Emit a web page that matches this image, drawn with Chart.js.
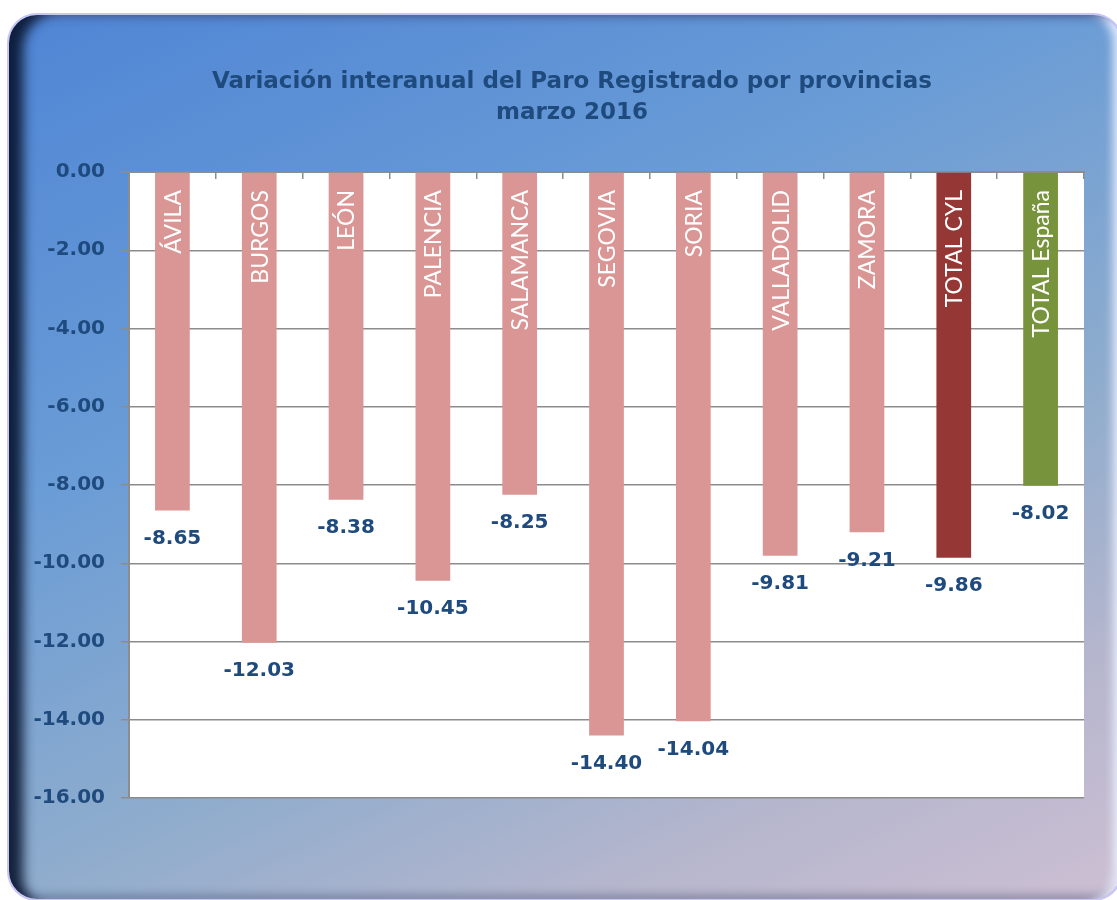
<!DOCTYPE html>
<html lang="es">
<head>
<meta charset="utf-8">
<title>Variación interanual del Paro Registrado por provincias</title>
<script src="https://cdn.jsdelivr.net/npm/chart.js@4.4.0/dist/chart.umd.min.js"></script>
<style>
  html, body { margin: 0; padding: 0; background: #ffffff; overflow: hidden; }
  #wrap { position: relative; width: 1117px; height: 900px; }
  #frame {
    position: absolute; left: 7px; top: 13px; width: 1112px; height: 884px;
    border: 2px solid #c9c6f4; border-radius: 30px;
    background: linear-gradient(155deg, #4f85d5 0%, #6a9cd6 35%, #8eaccd 62%, #b5b6cd 82%, #cdbfd3 100%);
    box-shadow:
      inset 22px 6px 12px -8px rgba(8, 20, 45, 0.9),
      inset -14px 0 10px -6px rgba(235, 240, 255, 0.9),
      inset 0 -10px 10px -6px rgba(30, 40, 80, 0.35),
      inset 0 8px 8px -6px rgba(120, 140, 220, 0.6);
  }
  #chart { position: absolute; left: 0; top: 0; }
</style>
</head>
<body>
<div id="wrap">
  <div id="frame"></div>
  <canvas id="chart" width="1117" height="900"></canvas>
</div>
<script>
// Données : variation interannuelle (%) mars 2016
const titleLines = ["Variación interanual del Paro Registrado por provincias", "marzo 2016"];
const provincias = ["ÁVILA", "BURGOS", "LEÓN", "PALENCIA", "SALAMANCA", "SEGOVIA", "SORIA", "VALLADOLID", "ZAMORA", "TOTAL CYL", "TOTAL España"];
const variacion = [-8.65, -12.03, -8.38, -10.45, -8.25, -14.40, -14.04, -9.81, -9.21, -9.86, -8.02];
const barColors = ["#d99694", "#d99694", "#d99694", "#d99694", "#d99694", "#d99694", "#d99694", "#d99694", "#d99694", "#953735", "#77933c"];
const yMin = -16;
const yMax = 0;
const yStep = 2;

const DARK_BLUE = "#1f4a7d";
const GRID = "#8c8c8c";

// fond blanc de la zone de tracé
const plotBg = {
  id: "plotBg",
  beforeDraw(chart) {
    const { ctx, chartArea: a } = chart;
    ctx.save();
    ctx.fillStyle = "#ffffff";
    ctx.fillRect(a.left, a.top, a.right - a.left, a.bottom - a.top);
    ctx.restore();
  },
};

// titre sur deux lignes
const titlePlugin = {
  id: "titlePlugin",
  afterDraw(chart) {
    const { ctx } = chart;
    ctx.save();
    ctx.fillStyle = DARK_BLUE;
    ctx.font = "bold 23px 'DejaVu Sans', sans-serif";
    ctx.textAlign = "center";
    ctx.textBaseline = "alphabetic";
    ctx.fillText(titleLines[0], 572, 88);
    ctx.fillText(titleLines[1], 572, 119);
    ctx.restore();
  },
};

// noms dans les barres + valeurs sous les barres
const barLabels = {
  id: "barLabels",
  afterDatasetsDraw(chart) {
    const { ctx, chartArea } = chart;
    const meta = chart.getDatasetMeta(0);
    ctx.save();
    meta.data.forEach((bar, i) => {
      // nom vertical, blanc
      ctx.save();
      ctx.translate(bar.x, chartArea.top + 18);
      ctx.rotate(-Math.PI / 2);
      ctx.fillStyle = "#ffffff";
      ctx.font = "23px Lato, 'Open Sans', sans-serif";
      ctx.textAlign = "right";
      ctx.textBaseline = "middle";
      ctx.fillText(provincias[i], 0, 1);
      ctx.restore();

      // valeur
      ctx.fillStyle = DARK_BLUE;
      ctx.font = "bold 20px 'DejaVu Sans', sans-serif";
      ctx.textAlign = "center";
      ctx.textBaseline = "middle";
      ctx.fillText(variacion[i].toFixed(2), bar.x, bar.y + 28);
    });
    ctx.restore();
  },
};

const canvas = document.getElementById("chart");

new Chart(canvas, {
  type: "bar",
  data: {
    labels: provincias,
    datasets: [
      {
        data: variacion,
        backgroundColor: barColors,
        borderWidth: 0,
        barPercentage: 0.8,
        categoryPercentage: 0.5,
      },
    ],
  },
  options: {
    responsive: false,
    maintainAspectRatio: false,
    animation: false,
    layout: {
      padding: { left: 0, top: 172, right: 33, bottom: 102 },
    },
    plugins: {
      legend: { display: false },
      tooltip: { enabled: false },
      title: { display: false },
    },
    scales: {
      x: {
        position: "top",
        afterFit: (scale) => {
          scale.height = 0;
        },
        ticks: { display: false },
        grid: {
          offset: true,
          drawOnChartArea: false,
          drawTicks: true,
          tickLength: -7,
          color: GRID,
          lineWidth: 1.5,
        },
        border: { display: true, color: GRID, width: 2 },
      },
      y: {
        min: yMin,
        max: yMax,
        afterFit: (scale) => {
          scale.width = 129;
        },
        ticks: {
          stepSize: yStep,
          padding: 16,
          color: DARK_BLUE,
          font: { family: "'DejaVu Sans', sans-serif", size: 20, weight: "bold" },
          callback: (v) => Number(v).toFixed(2),
        },
        grid: {
          color: GRID,
          lineWidth: 1.5,
          tickLength: 8,
        },
        border: { display: true, color: GRID, width: 2 },
      },
    },
  },
  plugins: [plotBg, titlePlugin, barLabels],
});
</script>
</body>
</html>
